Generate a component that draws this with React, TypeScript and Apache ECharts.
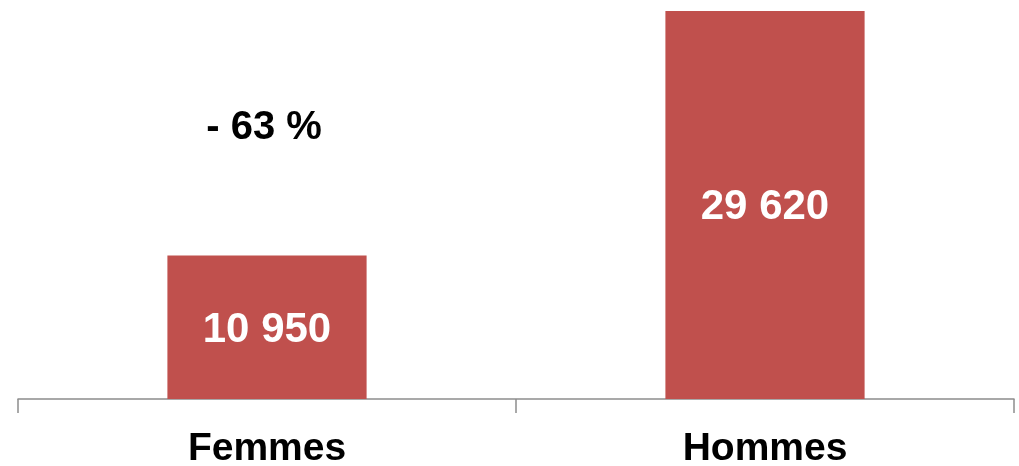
import React, { useEffect, useRef } from "react";
import * as echarts from "echarts";

const categories = ["Femmes", "Hommes"];
const values = [10950, 29620];
const annotationText = "- 63 %";
const annotationAt: [string, number] = ["Femmes", 20900];

const fmt = (v: number) => String(v).replace(/\B(?=(\d{3})+(?!\d))/g, " ");

export default function App() {
  const ref = useRef<HTMLDivElement>(null);
  useEffect(() => {
    if (!ref.current) return;
    const chart = echarts.init(ref.current, null, { renderer: "svg" });
    chart.setOption({
      animation: false,
      grid: { left: 18, right: 5, top: 6, bottom: 67, containLabel: false },
      xAxis: {
        type: "category",
        data: categories,
        axisLine: { lineStyle: { color: "#8c8c8c", width: 1.5 } },
        axisTick: { show: true, length: 14, lineStyle: { color: "#8c8c8c", width: 1.5 } },
        axisLabel: {
          color: "#000",
          fontFamily: "Liberation Sans, Arial, sans-serif",
          fontWeight: "bold",
          fontSize: 39,
          lineHeight: 38,
          margin: 28,
        },
      },
      yAxis: {
        type: "value",
        min: 0,
        max: 30000,
        show: false,
        splitLine: { show: false },
      },
      series: [
        {
          type: "bar",
          data: values,
          barWidth: "40%",
          itemStyle: { color: "#C0504D" },
          label: {
            show: true,
            position: "inside",
            color: "#fff",
            fontFamily: "Liberation Sans, Arial, sans-serif",
            fontWeight: "bold",
            fontSize: 42,
            formatter: (p: any) => fmt(p.value),
          },
          markPoint: {
            symbol: "circle",
            symbolSize: 2,
            itemStyle: { color: "rgba(0,0,0,0)" },
            data: [
              {
                coord: annotationAt,
                label: {
                  show: true,
                  position: "inside",
                  offset: [-3, 0],
                  formatter: annotationText,
                  color: "#000",
                  fontFamily: "Liberation Sans, Arial, sans-serif",
                  fontWeight: "bold",
                  fontSize: 40,
                },
              },
            ],
          },
        },
      ],
    });
    return () => chart.dispose();
  }, []);
  return (
    <div
      ref={ref}
      style={{ position: "fixed", left: 0, top: 0, width: 1019, height: 466 }}
    />
  );
}
